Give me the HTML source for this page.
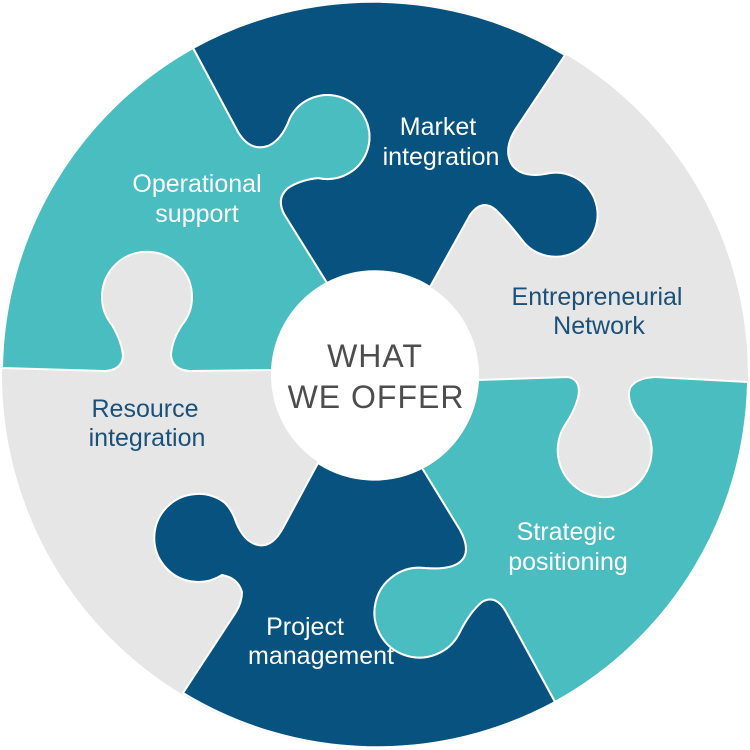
<!DOCTYPE html>
<html><head><meta charset="utf-8"><style>
html,body{margin:0;padding:0;background:#fff;}
svg{display:block;}
text{font-family:"Liberation Sans",sans-serif;}
</style></head><body>
<svg width="750" height="750" viewBox="0 0 750 750" xmlns="http://www.w3.org/2000/svg">
<circle cx="375" cy="375" r="373" fill="#e6e6e7"/>
<path fill="#07527f" stroke="#fff" stroke-width="2" d="M193,48 L238,132 Q250,152 268,146 Q282,140 290,118 A42,42 0 1 1 318,178 Q300,180 288,188 Q276,198 284,214 L327,283 A104,104 0 0 1 430,287 L470,215 Q482,198 496,210 Q508,222 522,240 A42,42 0 1 0 545,174 Q522,178 512,165 Q503,150 515,130 L565,55 A373,373 0 0 0 193,48 Z"/>
<path fill="#4abdc0" stroke="#fff" stroke-width="2" d="M2,368 L105,371 Q122,370 123,356 Q122,342 112,325 A45,45 0 1 1 182,325 Q172,340 171,355 Q172,370 190,371 L272,370 A104,104 0 0 1 327,283 L284,214 Q276,198 288,188 Q300,180 318,178 A42,42 0 1 0 290,118 Q282,140 268,146 Q250,152 238,132 L193,48 A373,373 0 0 0 2,368 Z"/>
<path fill="#4abdc0" stroke="#fff" stroke-width="2" d="M478,380 L568,377 Q582,380 578,398 Q574,412 565,425 A47,47 0 1 0 637,416 Q626,400 630,388 Q636,378 655,377 L748,382 A373,373 0 0 1 555,702 L506,612 Q496,594 482,602 Q470,612 460,632 A45,45 0 1 1 425,568 Q450,570 460,562 Q472,552 460,530 L422,468 A104,104 0 0 0 478,380 Z"/>
<path fill="#07527f" stroke="#fff" stroke-width="2" d="M422,468 L460,530 Q472,552 460,562 Q450,570 425,568 A45,45 0 1 0 460,632 Q470,612 482,602 Q496,594 506,612 L555,702 A373,373 0 0 1 183,693 L236,612 Q242,602 242,592 Q238,578 222,575 A44,44 0 1 1 225,503 Q232,510 236,522 Q244,542 258,545 Q272,548 283,528 L318,463 A104,104 0 0 0 422,468 Z"/>
<circle cx="375" cy="375" r="104" fill="#fff"/>
<g font-size="25" text-anchor="middle">
<text x="438" y="135" fill="#fff">Market</text>
<text x="441" y="165" fill="#fff">integration</text>
<text x="197" y="192" fill="#fff">Operational</text>
<text x="197" y="222" fill="#fff">support</text>
<text x="597" y="305" fill="#1a5079">Entrepreneurial</text>
<text x="599" y="334" fill="#1a5079">Network</text>
<text x="145" y="417" fill="#1a5079">Resource</text>
<text x="147" y="446" fill="#1a5079">integration</text>
<text x="566" y="540" fill="#fff">Strategic</text>
<text x="568" y="570" fill="#fff">positioning</text>
<text x="305" y="635" fill="#fff">Project</text>
<text x="321" y="664" fill="#fff">management</text>
</g>
<g font-size="32" fill="#4d4d4d" text-anchor="middle" letter-spacing="1">
<text x="375" y="367">WHAT</text>
<text x="376" y="408">WE OFFER</text>
</g>
</svg>
</body></html>
